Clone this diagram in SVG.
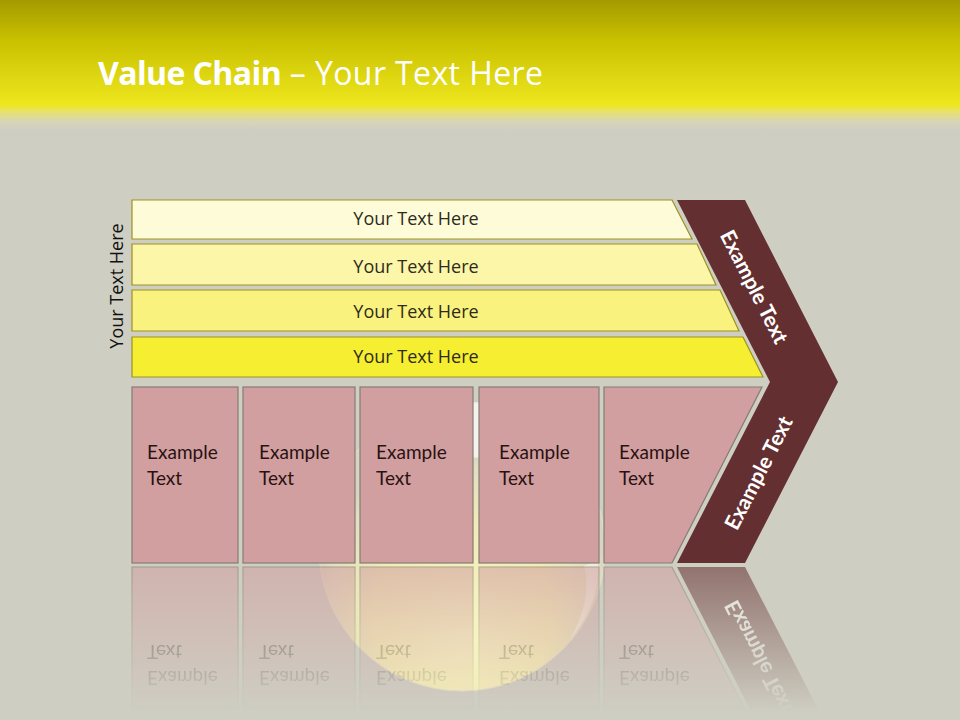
<svg xmlns="http://www.w3.org/2000/svg" xmlns:xlink="http://www.w3.org/1999/xlink" width="960" height="720" viewBox="0 0 960 720">
  <defs>
    <linearGradient id="hdr" x1="0" y1="0" x2="0" y2="130" gradientUnits="userSpaceOnUse">
      <stop offset="0" stop-color="#a39b00"/>
      <stop offset="0.31" stop-color="#c9c100"/>
      <stop offset="0.81" stop-color="#eee71e"/>
      <stop offset="0.86" stop-color="#e8e170"/>
      <stop offset="0.94" stop-color="#d6d4b8"/>
      <stop offset="1" stop-color="#cfcec2"/>
    </linearGradient>
    <radialGradient id="sphere" cx="462" cy="600" r="150" fx="462" fy="640" gradientUnits="userSpaceOnUse">
      <stop offset="0" stop-color="#f7f3c4"/>
      <stop offset="0.6" stop-color="#f1ecb8"/>
      <stop offset="0.9" stop-color="#e2dfc2"/>
      <stop offset="1" stop-color="#d6d4c2"/>
    </radialGradient>
    <linearGradient id="fadeGrad" x1="0" y1="565" x2="0" y2="712" gradientUnits="userSpaceOnUse">
      <stop offset="0" stop-color="#fff" stop-opacity="0.58"/>
      <stop offset="1" stop-color="#fff" stop-opacity="0"/>
    </linearGradient>
    <mask id="fade" maskUnits="userSpaceOnUse" x="0" y="565" width="960" height="155">
      <rect x="0" y="565" width="960" height="155" fill="url(#fadeGrad)"/>
    </mask>
    <style>
      .bar { stroke: #9d9120; stroke-width: 1.2; }
      .bt { font-family: "Open Sans", "Noto Sans", sans-serif; font-size: 18px; fill: #2e2b1c; text-anchor: middle; }
      .box { fill: #d19fa0; stroke: #857c72; stroke-width: 1.2; }
      .xt { font-family: Lato, "Open Sans", sans-serif; font-size: 19px; fill: #2a1212; }
      .chev { fill: #642f30; }
      .ct { font-family: Lato, "Open Sans", sans-serif; font-size: 21px; font-weight: bold; fill: #ffffff; text-anchor: middle; }
    </style>
  </defs>

  <rect x="0" y="0" width="960" height="720" fill="#cfcec2"/>
  <rect x="0" y="0" width="960" height="130" fill="url(#hdr)"/>

  <text x="98" y="85" font-family="'Open Sans', 'Noto Sans', sans-serif" font-size="32" fill="#ffffff"><tspan font-weight="bold" letter-spacing="-0.6">Value Chain</tspan><tspan letter-spacing="0.4"> – Your Text Here</tspan></text>

  <!-- glass sphere behind -->
  <g id="sphere-bg">
    <circle cx="462" cy="548" r="143" fill="url(#sphere)" stroke="#e4e1c8" stroke-width="1"/>
    <path d="M598,560 C600,590 590,615 570,640 C585,612 590,590 584,566 Z" fill="#ffffff" opacity="0.45"/>
    <ellipse cx="468" cy="430" rx="70" ry="28" fill="#ffffff" opacity="0.7"/>
  </g>

  <g id="left-label">
    <text class="bt" transform="translate(123,286) rotate(-90)" x="0" y="0" style="fill:#111">Your Text Here</text>
  </g>

  <g id="bar1">
    <path class="bar" d="M132,200 H672 L692,239 H132 Z" fill="#fefcd8"/>
    <text class="bt" x="416" y="225">Your Text Here</text>
  </g>
  <g id="bar2">
    <path class="bar" d="M132,244 H697 L716,285 H132 Z" fill="#fbf6a8"/>
    <text class="bt" x="416" y="273">Your Text Here</text>
  </g>
  <g id="bar3">
    <path class="bar" d="M132,290 H720 L739,331 H132 Z" fill="#faf27e"/>
    <text class="bt" x="416" y="318">Your Text Here</text>
  </g>
  <g id="bar4">
    <path class="bar" d="M132,337 H743 L763,377 H132 Z" fill="#f6ee30"/>
    <text class="bt" x="416" y="363">Your Text Here</text>
  </g>

  <g id="lower">
    <g id="box1">
      <rect class="box" x="132" y="387" width="106" height="176"/>
      <text class="xt" x="147" y="459">Example</text>
      <text class="xt" x="147" y="485">Text</text>
    </g>
    <g id="box2">
      <rect class="box" x="243" y="387" width="112" height="176"/>
      <text class="xt" x="259" y="459">Example</text>
      <text class="xt" x="259" y="485">Text</text>
    </g>
    <g id="box3">
      <rect class="box" x="360" y="387" width="113" height="176"/>
      <text class="xt" x="376" y="459">Example</text>
      <text class="xt" x="376" y="485">Text</text>
    </g>
    <g id="box4">
      <rect class="box" x="479" y="387" width="120" height="176"/>
      <text class="xt" x="499" y="459">Example</text>
      <text class="xt" x="499" y="485">Text</text>
    </g>
    <g id="box5">
      <path class="box" d="M604,387 H762 L672,563 H604 Z"/>
      <text class="xt" x="619" y="459">Example</text>
      <text class="xt" x="619" y="485">Text</text>
    </g>
    <g id="chevron">
      <path class="chev" d="M677,200 L745,200 L838,382 L745,563 L677,563 L770,382 Z"/>
      <text class="ct" transform="translate(754,287) rotate(63)" x="0" y="7">Example Text</text>
      <text class="ct" transform="translate(759,473) rotate(-63)" x="0" y="7">Example Text</text>
    </g>
  </g>

  <g id="reflection" mask="url(#fade)">
    <use xlink:href="#lower" href="#lower" transform="matrix(1,0,0,-1,0,1130)"/>
  </g>
</svg>
